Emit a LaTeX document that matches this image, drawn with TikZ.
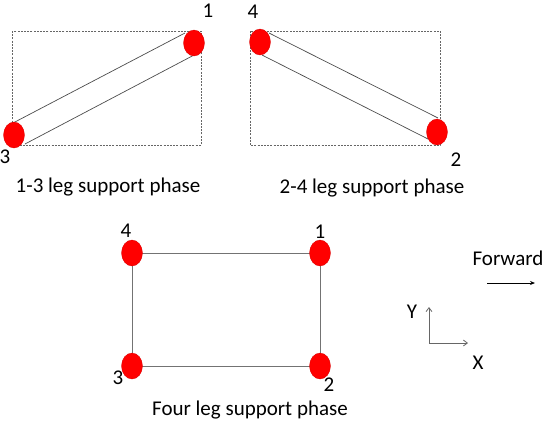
\documentclass[tikz,border=0pt]{standalone}
\usepackage{fontspec}
\setmainfont{Carlito}
\usetikzlibrary{shapes.geometric,arrows.meta}
\begin{document}
\begin{tikzpicture}[x=1pt,y=-1pt,
  foot/.style={ellipse,fill=red,draw=red!85!black,line width=0.3pt,minimum width=21pt,minimum height=26pt,inner sep=0pt},
  lbl/.style={font=\fontsize{21}{23}\selectfont,inner sep=0pt},
  frame/.style={draw=black!60,dashed,dash pattern=on 2pt off 1.2pt,line width=0.6pt},
  tube/.style={draw=black!70,line width=0.7pt},
  edge/.style={draw=black!55,line width=1pt},
  axis/.style={draw=black!60,line width=0.8pt,-{Straight Barb[length=4pt,width=6pt]}}]
\useasboundingbox (0,0) rectangle (544,424);
% left panel
\draw[frame] (12,31) rectangle (201,145);
\coordinate (a1) at (185,33); \coordinate (a3) at (13,123);
\coordinate (b1) at (196,54); \coordinate (b3) at (25,144);
\draw[tube] (a1) -- (a3);
\draw[tube] (b1) -- (b3);
\node[foot] (L1) at (194,43) {};
\node[foot] (L3) at (14,135) {};
\node[lbl] (tL1) at (208,11) {1};
\node[lbl] (tL3) at (5,157) {3};
\node[lbl] (capL) at (108,187) {1-3 leg support phase};
% right panel
\draw[frame] (250,31) rectangle (440,145);
\coordinate (c4) at (269,33); \coordinate (c2) at (438,118);
\coordinate (d4) at (262,55); \coordinate (d2) at (428,139);
\draw[tube] (c4) -- (c2);
\draw[tube] (d4) -- (d2);
\node[foot] (R4) at (260,42) {};
\node[foot] (R2) at (437,132) {};
\node[lbl] (tR4) at (253,12) {4};
\node[lbl] (tR2) at (456,160) {2};
\node[lbl] (capR) at (372,188) {2-4 leg support phase};
% bottom panel
\coordinate (F4) at (132,253);
\coordinate (F1) at (320,253);
\coordinate (F3) at (132,366);
\coordinate (F2) at (320,366);
\draw[edge] (F4) -- (F1) -- (F2) -- (F3) -- cycle;
\node[foot] (B4) at (F4) {};
\node[foot] (B1) at (F1) {};
\node[foot] (B3) at (F3) {};
\node[foot] (B2) at (F2) {};
\node[lbl] (tB4) at (126,231) {4};
\node[lbl] (tB1) at (320,232) {1};
\node[lbl] (tB3) at (118,378) {3};
\node[lbl] (tB2) at (329,385) {2};
\node[lbl] (capB) at (250,410) {Four leg support phase};
% forward
\node[lbl] (fw) at (508,258) {Forward};
\coordinate (fs) at (487,283);
\coordinate (fe) at (535,283);
\draw[line width=0.8pt,-{Stealth[length=5pt,width=4pt]}] (fs) -- (fe);
% axes
\coordinate (o) at (429,343);
\coordinate (ya) at (429,307);
\coordinate (xa) at (468,343);
\draw[axis] (o) -- (ya);
\draw[axis] (o) -- (xa);
\node[lbl] (ty) at (412,312) {Y};
\node[lbl] (tx) at (478,363) {X};
\end{tikzpicture}
\end{document}
